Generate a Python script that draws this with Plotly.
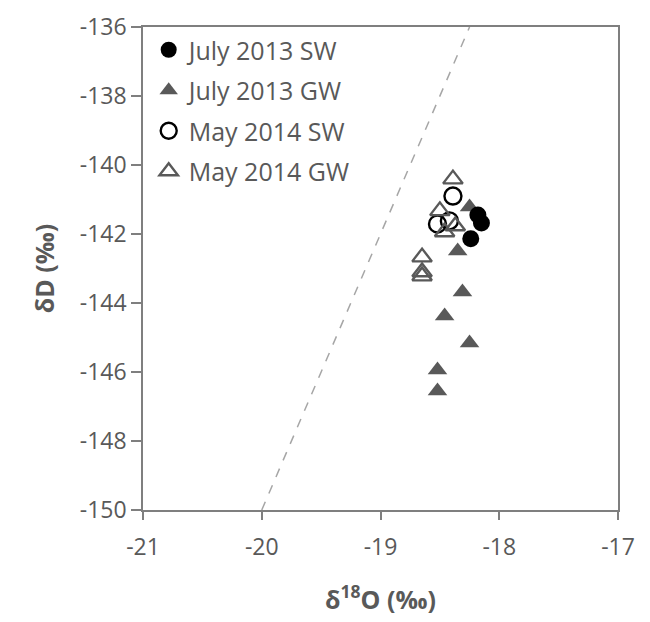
import plotly.graph_objects as go

# July 2013 surface water (filled circles)
jul13_sw_x = [-18.18, -18.15, -18.24]
jul13_sw_y = [-141.45, -141.68, -142.14]

# July 2013 groundwater (filled triangles)
jul13_gw_x = [-18.25, -18.35, -18.31, -18.46, -18.25, -18.52, -18.52]
jul13_gw_y = [-141.22, -142.49, -143.68, -144.38, -145.16, -145.94, -146.55]

# May 2014 surface water (open circles)
may14_sw_x = [-18.39, -18.52, -18.42]
may14_sw_y = [-140.90, -141.71, -141.62]

# May 2014 groundwater (open triangles)
may14_gw_x = [-18.39, -18.50, -18.37, -18.46, -18.65, -18.65, -18.65]
may14_gw_y = [-140.41, -141.33, -141.77, -141.94, -142.67, -143.10, -143.22]

# Global meteoric water line (dD = 8*d18O + 10)
gmwl_x = [-20.0, -18.25]
gmwl_y = [-150.0, -136.0]

x_ticks = [-21, -20, -19, -18, -17]
y_ticks = [-150, -148, -146, -144, -142, -140, -138, -136]

GRAY = "#595959"
AX = "#7f7f7f"
FONT = "Open Sans"

fig = go.Figure()

fig.add_trace(go.Scatter(x=gmwl_x, y=gmwl_y, mode="lines",
                         line=dict(color="#a6a6a6", width=1.5, dash="dash"),
                         showlegend=False, hoverinfo="skip"))

fig.add_trace(go.Scatter(x=may14_sw_x, y=may14_sw_y, mode="markers",
                         name="May 2014 SW", legendgroup="c", legendrank=3,
                         marker=dict(symbol="circle-open", size=17,
                                     color="black", line=dict(width=2.4, color="black"))))
fig.add_trace(go.Scatter(x=may14_gw_x, y=may14_gw_y, mode="markers",
                         name="May 2014 GW", legendgroup="d", legendrank=4,
                         marker=dict(symbol="triangle-up-open", size=17,
                                     color=GRAY, line=dict(width=2.4, color=GRAY))))
fig.add_trace(go.Scatter(x=jul13_gw_x, y=jul13_gw_y, mode="markers",
                         name="July 2013 GW", legendgroup="b", legendrank=2,
                         marker=dict(symbol="triangle-up", size=17, color=GRAY,
                                     line=dict(width=0))))
fig.add_trace(go.Scatter(x=jul13_sw_x, y=jul13_sw_y, mode="markers",
                         name="July 2013 SW", legendgroup="a", legendrank=1,
                         marker=dict(symbol="circle", size=17, color="black",
                                     line=dict(width=0))))

fig.update_layout(
    width=650, height=622,
    margin=dict(l=135, r=40, t=19, b=120, autoexpand=False),
    paper_bgcolor="white", plot_bgcolor="white",
    font=dict(family=FONT, color=GRAY, size=23),
    legend=dict(x=0.012, y=1.0, xanchor="left", yanchor="top",
                font=dict(size=25, color=GRAY, family=FONT),
                bgcolor="rgba(0,0,0,0)", tracegroupgap=5,
                itemwidth=30),
    xaxis=dict(range=[-21, -17], tickvals=x_ticks, ticktext=[str(v) for v in x_ticks],
               showgrid=False, zeroline=False, automargin=False,
               showline=True, linecolor=AX, linewidth=1.5, mirror=True,
               ticks="outside", ticklen=8, tickcolor=AX, tickwidth=1.5,
               ticklabelstandoff=8, ticklabeloverflow="allow",
               tickfont=dict(size=23, color=GRAY, family=FONT),
               title=dict(text="<b>δ<sup>18</sup>O (‰)</b>", standoff=30,
                          font=dict(size=25, color=GRAY, family=FONT))),
    yaxis=dict(range=[-150, -136], tickvals=y_ticks, ticktext=[str(v) for v in y_ticks],
               showgrid=False, zeroline=False, automargin=False,
               showline=True, linecolor=AX, linewidth=1.5, mirror=True,
               ticks="outside", ticklen=10, tickcolor=AX, tickwidth=1.5,
               ticklabeloverflow="allow",
               tickfont=dict(size=23, color=GRAY, family=FONT),
               title=dict(text="<b>δD (‰)</b>", standoff=18,
                          font=dict(size=25, color=GRAY, family=FONT))),
)

fig.write_html("out.html")
